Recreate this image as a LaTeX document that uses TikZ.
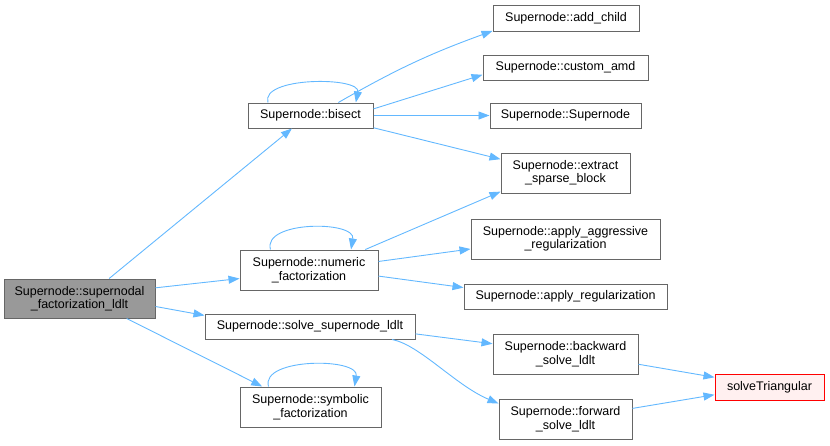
\documentclass[tikz,border=0pt]{standalone}
\usepackage{fontspec}
\setmainfont{Liberation Sans}
\usetikzlibrary{arrows.meta}
\definecolor{EdgeBlue}{HTML}{63B8FF}
\definecolor{BoxGray}{HTML}{666666}
\definecolor{MainFill}{HTML}{999999}
\definecolor{ExtRed}{HTML}{FF0000}
\definecolor{ExtFill}{HTML}{FFF0F0}

\begin{document}
\begin{tikzpicture}[x=1pt, y=1pt, >={Triangle[length=11pt,width=8pt]},
    fnode/.style={draw=BoxGray, fill=white, line width=1pt, inner sep=0pt,
                  align=center, font=\fontsize{12.5}{13.5}\selectfont},
    call/.style={->, EdgeBlue, line width=0.9pt}]
  \useasboundingbox (0,0) rectangle (830,-445);
  \node[fnode, fill=MainFill, minimum width=151pt, minimum height=39pt] (main) at (79.5,-298.5) {Supernode::supernodal\\\_factorization\_ldlt};
  \node[fnode, minimum width=125pt, minimum height=25pt] (bisect) at (310.5,-115.5) {Supernode::bisect};
  \node[fnode, minimum width=146pt, minimum height=26pt] (addchild) at (566,-18) {Supernode::add\_child};
  \node[fnode, minimum width=165pt, minimum height=25pt] (customamd) at (565.5,-67.5) {Supernode::custom\_amd};
  \node[fnode, minimum width=151pt, minimum height=25pt] (ctor) at (565.5,-115.5) {Supernode::Supernode};
  \node[fnode, minimum width=129pt, minimum height=40pt] (extract) at (565.5,-173) {Supernode::extract\\\_sparse\_block};
  \node[fnode, minimum width=138pt, minimum height=40pt] (numeric) at (309,-270) {Supernode::numeric\\\_factorization};
  \node[fnode, minimum width=189pt, minimum height=40pt] (aggr) at (565.5,-239) {Supernode::apply\_aggressive\\\_regularization};
  \node[fnode, minimum width=203pt, minimum height=25pt] (reg) at (565.5,-296.5) {Supernode::apply\_regularization};
  \node[fnode, minimum width=210pt, minimum height=25pt] (solve) at (310,-326.5) {Supernode::solve\_supernode\_ldlt};
  \node[fnode, minimum width=141pt, minimum height=40pt] (symbolic) at (310.5,-407) {Supernode::symbolic\\\_factorization};
  \node[fnode, minimum width=145pt, minimum height=40pt] (backward) at (565.5,-354) {Supernode::backward\\\_solve\_ldlt};
  \node[fnode, minimum width=133pt, minimum height=40pt] (forward) at (565.5,-419) {Supernode::forward\\\_solve\_ldlt};
  \node[fnode, draw=ExtRed, fill=ExtFill, minimum width=109pt, minimum height=26pt] (solvetri) at (769.5,-387) {solveTriangular};

  % calls from the main routine
  \draw[call] (main.34.4) -- (bisect.215.5);
  \draw[call] (main.8.7) -- (numeric.187.4);
  \draw[call] (main.-6.4) -- (solve.174.3);
  \draw[call] (main.-23.2) -- (symbolic.157.6);

  % bisect
  \draw[call] (bisect.163.6) .. controls +(-8,26) and +(5,26) .. (bisect.16.8);
  \draw[call] (bisect.25.3) to[bend left=5] (addchild.190.4);
  \draw[call] (bisect.6.8) -- (customamd.185.2);
  \draw[call] (bisect.east) -- (ctor.west);
  \draw[call] (bisect.-11.9) -- (extract.168.6);

  % numeric factorization
  \draw[call] (numeric.152.9) .. controls +(-8,29) and +(5,29) .. (numeric.26);
  \draw[call] (numeric.20.3) -- (extract.196.4);
  \draw[call] (numeric.7.4) -- (aggr.186.6);
  \draw[call] (numeric.-5.8) -- (reg.175.1);

  % solves
  \draw[call] (solve.-4.6) -- (backward.172.9);
  \draw[call] (solve.-9.5) .. controls (420,-345) and (455,-385) .. (forward.167.3);
  \draw[call] (symbolic.154.8) .. controls +(-8,29) and +(5,29) .. (symbolic.25.7);
  \draw[call] (backward.-8.6) -- (solvetri.170.6);
  \draw[call] (forward.9.4) -- (solvetri.188.4);
\end{tikzpicture}
\end{document}
